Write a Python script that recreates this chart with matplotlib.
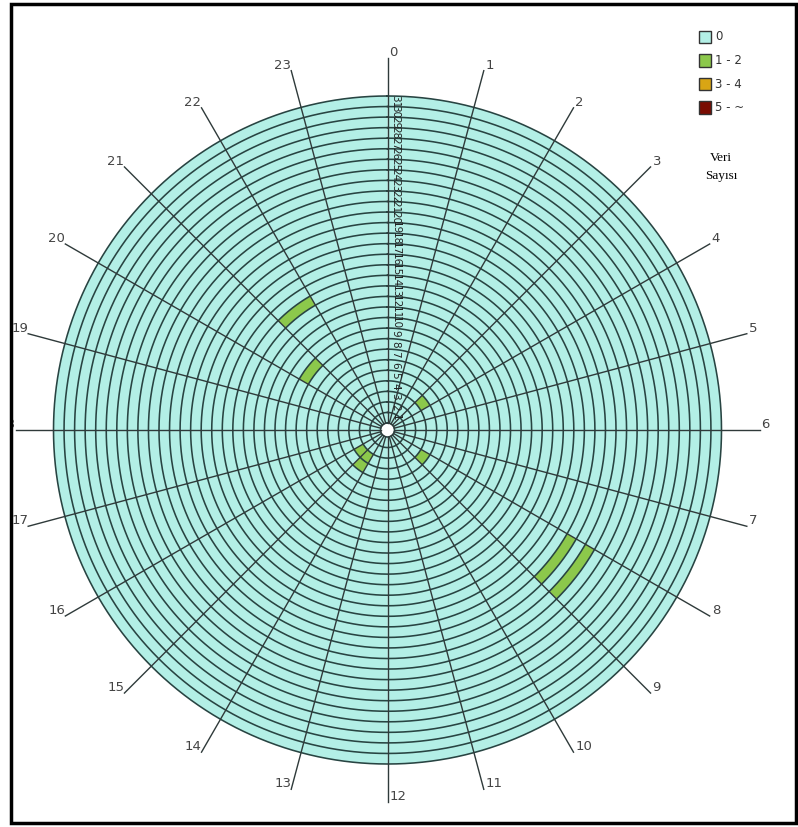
import numpy as np
import matplotlib.pyplot as plt
import matplotlib.transforms as mtransforms
from matplotlib.patches import Rectangle

## Veri ##
n_hours = 24
n_days = 31
# green cells (hour sector, day ring, count)
cell_hours = [21, 20, 3, 8, 15, 14, 14, 8, 8]
cell_days = [14, 9, 4, 4, 3, 3, 4, 20, 22]
cell_counts = [1, 1, 1, 1, 1, 1, 1, 1, 1]

bin_labels = ["0", "1 - 2", "3 - 4", "5 - ~"]
bin_colors = ["#b3efe6", "#8cc84b", "#d9a514", "#7a0c02"]

grid = np.zeros((n_days, n_hours))
for h, d, c in zip(cell_hours, cell_days, cell_counts):
    grid[d - 1, h] = c

def bin_of(v):
    if v == 0:
        return 0
    if v <= 2:
        return 1
    if v <= 4:
        return 2
    return 3

## Geometrie (unites = pixels) ##
W, H = 798, 827
cx, cy = 387.5, 430
r_hub = 7
r_out = 334
r_tip = 372
dr = (r_out - r_hub) / n_days

fig = plt.figure(figsize=(W / 100, H / 100), dpi=100)
ax = fig.add_axes([(cx - r_tip) / W, (H - cy - r_tip) / H, 2 * r_tip / W, 2 * r_tip / H],
                  projection='polar')
ax.set_theta_zero_location('N')
ax.set_theta_direction(-1)
ax.set_ylim(0, r_tip)
ax.axis('off')

# cellules
dth = 2 * np.pi / n_hours
for d in range(n_days):
    for h in range(n_hours):
        ax.bar(h * dth, dr, width=dth, bottom=r_hub + d * dr, align='edge',
               color=bin_colors[bin_of(grid[d, h])], edgecolor='none', linewidth=0)

# cercles
th = np.linspace(0, 2 * np.pi, 721)
for k in range(n_days + 1):
    ax.plot(th, np.full_like(th, r_hub + k * dr), color='#284442', lw=1.15)

# rayons + heures
for h in range(n_hours):
    a = h * dth
    ax.plot([a, a], [r_hub, r_tip], color='#2f3a3a', lw=1.0, clip_on=False)
    if h <= 12:
        tr = mtransforms.offset_copy(ax.transData, fig=fig, x=2, y=-1, units='dots')
        ha = 'left'
    else:
        tr = mtransforms.offset_copy(ax.transData, fig=fig, x=0, y=-1, units='dots')
        ha = 'right'
    ax.text(a, r_tip, str(h), ha=ha, va='bottom', fontsize=9.5, color='#444444',
            transform=tr, clip_on=False)

# jours le long du rayon 0
tr = mtransforms.offset_copy(ax.transData, fig=fig, x=3, y=0, units='dots')
for k in range(1, n_days + 1):
    ax.text(0, r_hub + (k - 0.5) * dr, str(k), ha='left', va='center', rotation=-90,
            fontsize=7.5, color='#222222', transform=tr)

# legende
for i, (lab, col) in enumerate(zip(bin_labels, bin_colors)):
    y = 37 + i * 23.5
    fig.patches.append(Rectangle(((699) / W, (H - y - 6) / H), 12 / W, 12 / H,
                                 transform=fig.transFigure, facecolor=col,
                                 edgecolor='#333333', lw=1.0))
    fig.text(715 / W, (H - y) / H, lab, ha='left', va='center', fontsize=8.5,
             color='#333333')
fig.text(721 / W, (H - 158) / H, "Veri", ha='center', va='center', fontsize=9.5,
         family='Liberation Serif')
fig.text(721 / W, (H - 176) / H, "Sayısı", ha='center', va='center', fontsize=9.5,
         family='Liberation Serif')

# cadre
fig.patches.append(Rectangle((0, 0), 10 / W, 1, transform=fig.transFigure,
                             facecolor='white', edgecolor='none', zorder=10))
fig.patches.append(Rectangle((11 / W, 4 / H), (796 - 11) / W, (823 - 4) / H,
                             transform=fig.transFigure, facecolor='none',
                             edgecolor='black', lw=2.5, zorder=11))

fig.savefig("out.png", dpi=100)
